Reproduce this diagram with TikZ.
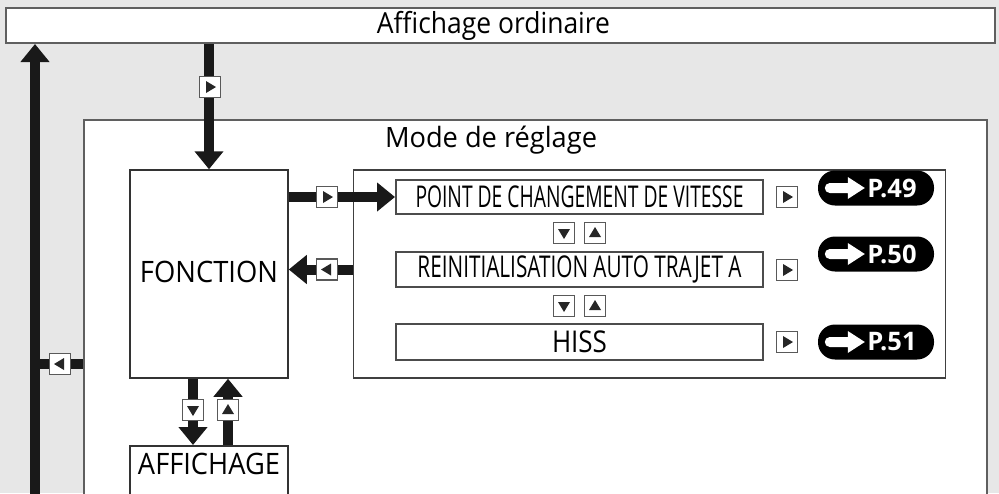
\documentclass[tikz,border=0pt]{standalone}
\usepackage{fontspec}
\setmainfont{Open Sans}
\usetikzlibrary{arrows.meta}

\definecolor{fond}{RGB}{231,231,231}
\definecolor{bord}{RGB}{95,95,95}
\newcommand{\texte}[3]{\resizebox{#1}{\height}{\fontsize{#2}{#2}\selectfont #3}}

\begin{document}
\begin{tikzpicture}[
  x=1pt, y=-1pt,
  every node/.style={inner sep=0pt},
  bandeau/.style={
    draw=bord, line width=2pt, rectangle, fill=white,
  },
  bloc/.style={
    draw=black!80, line width=1.5pt, rectangle, fill=white, align=center,
  },
  item/.style={
    draw=black!70, line width=2pt, rectangle, fill=white,
    minimum width=367pt, minimum height=34pt,
  },
  badge/.style={
    fill=black, rounded corners=17pt, minimum width=116pt, minimum height=35pt,
    text=white, font=\bfseries\fontsize{25.5}{25.5}\selectfont,
  },
  touche/.style={
    draw=black!65, line width=1.4pt, fill=white,
    minimum width=21pt, minimum height=21pt,
  },
  toucheDroite/.style={touche, path picture={\fill[black!85,
    shift={(path picture bounding box.center)}]
    (-4,-6) -- (6,0) -- (-4,6) -- cycle;}},
  toucheGauche/.style={touche, path picture={\fill[black!85,
    shift={(path picture bounding box.center)}]
    (4,-6) -- (-6,0) -- (4,6) -- cycle;}},
  toucheBas/.style={touche, path picture={\fill[black!85,
    shift={(path picture bounding box.center)}]
    (-6,-4) -- (6,-4) -- (0,6) -- cycle;}},
  toucheHaut/.style={touche, path picture={\fill[black!85,
    shift={(path picture bounding box.center)}]
    (-6,4) -- (6,4) -- (0,-6) -- cycle;}},
  fleche/.style={-{Triangle[length=18pt,width=28pt]}, line width=10pt, draw=black!90},
  trait/.style={line width=10pt, draw=black!90},
]

% -- Cadre et fond ---------------------------------------------------
\useasboundingbox (0,0) rectangle (999,493);
\clip (0,0) rectangle (999,493);
\fill[fond] (0,0) rectangle (999,493);

% -- Lignes et colonnes ----------------------------------------------
\def\rA{197}
\def\rB{269.5}
\def\rC{342}
\def\cItem{579.5}
\def\cTouche{787}
\def\cBadge{876}

% -- Bandeau du haut -------------------------------------------------
\node[bandeau, minimum width=989pt, minimum height=35pt] (ordinaire) at (500.5,25.5)
  {\hspace*{-14pt}\texte{233pt}{29}{Affichage ordinaire}};

% -- Mode de reglage -------------------------------------------------
\node[bandeau, minimum width=903pt, minimum height=420pt] (reglage) at (535.5,330) {};
\node[anchor=base] (titre) at (491,147) {\texte{212pt}{28}{Mode de réglage}};

% -- Fonction et menu ------------------------------------------------
\node[bloc, minimum width=158pt, minimum height=208pt] (fonction) at (209,274)
  {\raisebox{4pt}{\texte{138pt}{29.5}{FONCTION}}};
\node[bloc, draw=black!75, minimum width=592pt, minimum height=208pt] (menu) at (649.5,274) {};

\node[item] (pointA) at (\cItem,\rA) {\texte{328pt}{30}{POINT DE CHANGEMENT DE VITESSE}};
\node[item, minimum height=35pt] (pointB) at (\cItem,\rB) {\texte{324pt}{30}{REINITIALISATION AUTO TRAJET A}};
\node[item, minimum height=36pt] (pointC) at (\cItem,\rC) {\texte{55pt}{30}{HISS}};

% -- Affichage (coupe en bas) ----------------------------------------
\node[bloc, anchor=north, minimum width=158pt, inner ysep=7pt, text depth=40pt] (affichage) at (209,445)
  {\texte{142pt}{29.5}{AFFICHAGE}};

% -- Renvois de page -------------------------------------------------
\node[badge] (renvoiA) at (\cBadge,188) {\hspace*{32pt}P.49};
\node[badge] (renvoiB) at (\cBadge,254) {\hspace*{32pt}P.50};
\node[badge] (renvoiC) at (\cBadge,342) {\hspace*{32pt}P.51};
% petite fleche blanche a gauche de chaque renvoi
\foreach \r in {renvoiA,renvoiB,renvoiC}{
  \fill[white] ([xshift=12pt,yshift=5pt]\r.west) -- ([xshift=30pt,yshift=5pt]\r.west)
    -- ([xshift=30pt,yshift=11pt]\r.west) -- ([xshift=47pt]\r.west)
    -- ([xshift=30pt,yshift=-11pt]\r.west) -- ([xshift=30pt,yshift=-5pt]\r.west)
    -- ([xshift=12pt,yshift=-5pt]\r.west)
    arc[start angle=270, end angle=90, radius=5pt] -- cycle;
}

% -- Fleches ---------------------------------------------------------
\coordinate (bas) at (35,510);
\coordinate (jonction) at (35,364);
\draw[fleche] (bas) -- (bas |- ordinaire.south);
\draw[trait] (jonction) -- (jonction -| reglage.west);
\draw[fleche] (fonction.north |- ordinaire.south) -- (fonction.north);
\draw[fleche] (fonction.east |- pointA) -- (pointA.west);
\draw[fleche] (menu.west |- pointB) -- (fonction.east |- pointB);
\draw[fleche] ([xshift=-16pt]fonction.south) -- ([xshift=-16pt]affichage.north);
\draw[fleche] ([xshift=19pt]affichage.north) -- ([xshift=19pt]fonction.south);

% -- Touches ---------------------------------------------------------
\node[toucheDroite] (tHaut) at (210,87) {};
\node[toucheGauche] (tRetour) at (60,364) {};
\node[toucheDroite] (tVers) at (327,\rA) {};
\node[toucheGauche] (tDepuis) at (327,\rB) {};
\node[toucheBas] (tDescend) at (193,410) {};
\node[toucheHaut] (tMonte) at (228,410) {};

\node[toucheDroite] (tA) at (\cTouche,\rA) {};
\node[toucheDroite] (tB) at (\cTouche,270) {};
\node[toucheDroite] (tC) at (\cTouche,\rC) {};

\node[toucheBas] (tAB1) at (564,233) {};
\node[toucheHaut] (tAB2) at (595,233) {};
\node[toucheBas] (tBC1) at (564,306) {};
\node[toucheHaut] (tBC2) at (595,306) {};

\end{tikzpicture}
\end{document}
